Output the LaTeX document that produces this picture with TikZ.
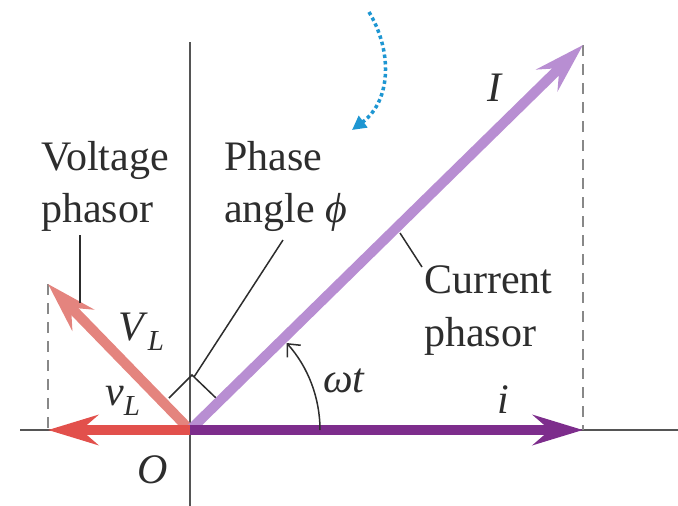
\documentclass[tikz,border=0pt]{standalone}
\usepackage{fontspec}
\setmainfont{Liberation Serif}
\usetikzlibrary{arrows.meta}
\definecolor{curlight}{RGB}{184,142,210}
\definecolor{curdark}{RGB}{125,45,140}
\definecolor{voltlight}{RGB}{228,132,126}
\definecolor{voltdark}{RGB}{226,80,76}
\definecolor{rotblue}{RGB}{30,150,210}
\definecolor{txtgray}{RGB}{45,45,45}
\definecolor{axgray}{RGB}{85,85,85}
\begin{document}
\begin{tikzpicture}[x=1pt,y=-1pt,
  txt/.style={font=\fontsize{42}{50}\selectfont, text=txtgray, inner sep=0pt, anchor=base west},
  axis/.style={draw=axgray, line width=1.8pt},
  proj/.style={draw=axgray!70, line width=1.6pt, dash pattern=on 11pt off 8pt},
  phasor/.style={line width=10pt, -{Stealth[length=50pt,width=30pt,inset=17pt]}},
  leader/.style={draw=txtgray, line width=1.5pt}]
\useasboundingbox (0,0) rectangle (678,506);

% coordinates
\coordinate (O) at (190,430);
\coordinate (Itip) at (583,45);
\coordinate (itip) at (583,430);
\coordinate (VLtip) at (48,284);
\coordinate (vLtip) at (48,430);
\coordinate (axL) at (20,430);
\coordinate (axR) at (678,430);
\coordinate (axT) at (190,42);
\coordinate (axB) at (190,506);

% axes
\draw[axis] (axL) -- (axR);
\draw[axis] (axT) -- (axB);

% projections
\draw[proj] (Itip) -- (itip);
\draw[proj] (VLtip) -- (vLtip);

% right angle marker
\coordinate (ra1) at (169,398);
\coordinate (ra2) at (192,375);
\coordinate (ra3) at (216,398);
\draw[leader] (ra1) -- (ra2) -- (ra3);

% phasors
\draw[phasor, draw=voltlight, fill=voltlight] (O) -- (VLtip);
\draw[phasor, draw=curlight, fill=curlight] (O) -- (Itip);
\draw[phasor, draw=voltdark, fill=voltdark] (O) -- (vLtip);
\draw[phasor, draw=curdark, fill=curdark] (O) -- (itip);

% omega t arc
\coordinate (arcS) at (320,430);
\draw[line width=1.5pt, draw=txtgray, -{Straight Barb[length=10pt,width=18pt]}]
  (arcS) arc[start angle=0, end angle=-42, radius=130];

% rotation arrow
\coordinate (rotS) at (369,12);
\coordinate (rotE) at (352,130);
\draw[rotblue, line width=3.5pt, dash pattern=on 3.5pt off 3pt,
  -{Triangle[length=14pt,width=14pt]}]
  (rotS) .. controls (392,50) and (392,100) .. (rotE);

% leaders
\coordinate (volLeadT) at (80,235);
\coordinate (volLeadB) at (80,303);
\draw[leader] (volLeadT) -- (volLeadB);
\coordinate (phLeadT) at (283,240);
\coordinate (phLeadB) at (194,377);
\draw[leader] (phLeadT) -- (phLeadB);
\coordinate (cuLeadA) at (400,233);
\coordinate (cuLeadB) at (422,267);
\draw[leader] (cuLeadA) -- (cuLeadB);

% texts
\node[txt] (volt1) at (41,170) {Voltage};
\node[txt] (volt2) at (41,222) {phasor};
\node[txt] (phase1) at (224,170) {Phase};
\node[txt] (phase2) at (224,222) {angle \textit{ϕ}};
\node[txt] (cur1) at (424,293) {Current};
\node[txt] (cur2) at (424,346) {phasor};

\node[txt] (Ilab) at (487,101) {\textit{I}};
\node[txt] (ilab) at (497,413) {\textit{i}};
\node[txt] (wtlab) at (323,392) {\textit{ωt}};
\node[txt] (VLlab) at (118,340) {\textit{V}\raisebox{-10pt}{\fontsize{29}{30}\selectfont\itshape L}};
\node[txt] (vLlab) at (105,405) {\textit{v}\raisebox{-10pt}{\fontsize{29}{30}\selectfont\itshape L}};
\node[txt] (Olab) at (137,483) {\textit{O}};
\end{tikzpicture}
\end{document}
